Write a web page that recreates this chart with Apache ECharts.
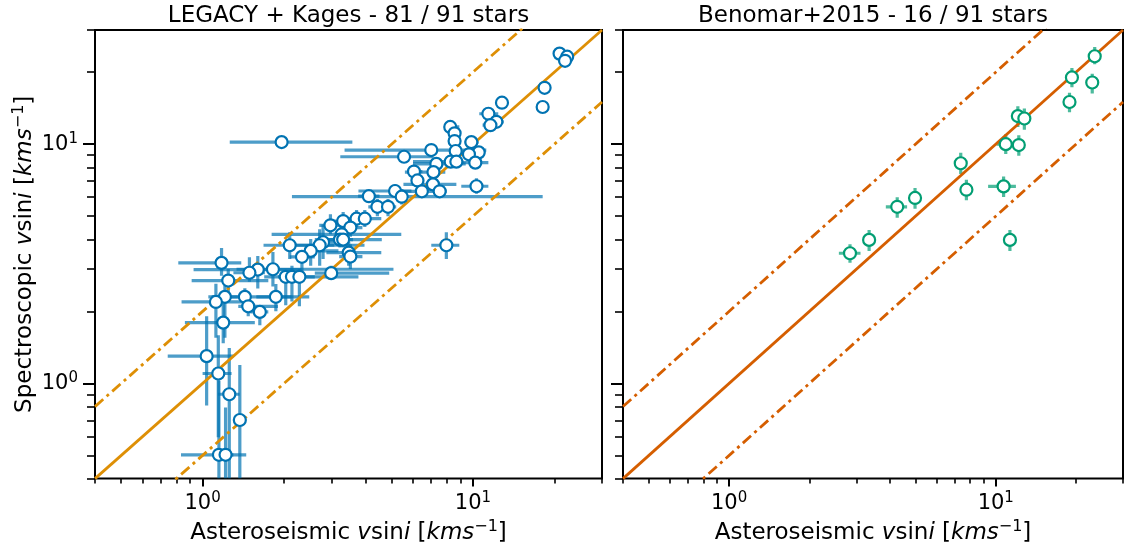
<!DOCTYPE html>
<html><head><meta charset="utf-8">
<script src="https://cdn.jsdelivr.net/npm/echarts@6/dist/echarts.min.js"></script>
<style>html,body{margin:0;padding:0;background:#fff}#c{width:1129px;height:550px}</style>
</head><body><div id="c"></div>
<script>
// ---------- DATA ----------
const panelTitles = ['LEGACY + Kages - 81 / 91 stars', 'Benomar+2015 - 16 / 91 stars'];
const axisMin = 0.4, axisMax = 30;
const majorTicks = [1, 10];
const minorTicks = [0.4,0.5,0.6,0.7,0.8,0.9,2,3,4,5,6,7,8,9,20,30];
const refRatios = [1, 2, 0.5];

// LEGACY + Kages
const legacyX    = [20.9,22.3,21.9,18.4,18.1,12.8,11.4,12.2,11.6,8.24,8.55,8.55,9.86,1.96,7.01,8.63,10.5,9.66,5.56,8.27,8.68,10.2,7.32,6.05,7.14,6.23,7.11,10.3,6.47,7.53,5.15,5.45,4.12,4.43,4.85,3.71,3.98,3.31,2.97,3.52,3.27,3.22,3.31,2.79,2.71,2.10,2.51,2.33,3.47,3.52,7.97,2.99,1.82,1.60,1.49,2.03,2.14,2.28,1.175,1.244,1.209,1.120,1.433,1.866,1.475,1.628,1.192,1.035,1.143,1.255,1.373,1.149,1.216];
const legacyY    = [23.9,23.2,22.3,17.2,14.3,14.9,13.4,12.4,12.0,11.8,11.1,10.3,10.2,10.2,9.45,9.36,9.24,9.07,8.86,8.45,8.45,8.37,8.27,7.68,7.64,7.05,6.79,6.67,6.35,6.35,6.37,6.03,6.06,5.47,5.47,4.88,4.88,4.77,4.58,4.48,4.20,3.99,3.99,3.89,3.78,3.78,3.58,3.38,3.52,3.39,3.78,2.89,3.00,2.99,2.90,2.79,2.79,2.79,3.19,2.69,2.30,2.19,2.30,2.30,2.10,1.99,1.795,1.30,1.10,0.901,0.703,0.503,0.503];
const legacyXLow = [20.0,21.4,21.0,17.6,17.3,12.2,10.55,11.4,10.85,7.83,8.1,8.1,9.3,1.26,3.35,8.2,9.9,9.1,3.23,6.0,8.2,8.9,6.0,5.7,5.6,5.9,5.53,9.05,5.0,7.1,3.77,2.14,3.76,4.1,4.5,3.17,3.6,2.9,2.7,3.2,1.80,2.9,2.6,2.59,2.17,1.68,2.38,2.1,2.87,3.2,7.01,2.6,1.335,0.926,1.3,1.69,1.9,2.0,0.813,0.911,1.08,0.836,1.05,1.58,1.355,1.5,0.860,0.743,1.0,1.14,1.31,0.832,1.15];
const legacyXHigh= [21.8,23.2,22.8,19.2,18.9,13.4,12.4,13.0,12.5,8.90,9.0,9.0,10.5,3.58,11.2,9.1,11.1,10.3,7.14,9.2,9.2,11.4,9.4,6.5,7.9,6.6,8.68,11.4,7.8,8.0,5.92,18.1,4.51,4.8,5.2,4.2,4.58,3.8,3.3,3.9,5.43,3.6,4.6,3.40,3.97,3.07,3.18,2.6,4.58,3.9,8.90,4.9,5.08,2.32,1.7,3.77,2.4,2.6,1.39,1.75,1.35,1.48,2.13,2.48,1.90,1.75,1.56,1.30,1.28,1.37,1.45,1.45,1.3];
const legacyYLow = [22.8,22.2,21.3,16.4,13.7,14.2,12.8,11.8,11.4,11.2,10.5,9.7,9.6,9.9,9.1,8.8,8.7,8.6,8.5,8.0,8.0,7.9,7.8,7.2,7.2,6.6,6.4,6.2,6.0,6.0,6.0,5.6,5.7,5.0,5.0,4.5,4.5,4.4,4.20,4.1,3.9,3.7,3.7,3.31,3.10,3.31,3.10,2.93,3.1,3.01,3.31,2.74,2.54,2.49,2.66,2.12,2.2,2.1,2.82,2.26,1.55,1.55,2.1,2.0,1.91,1.75,1.47,0.809,0.596,0.3,0.3,0.3,0.3];
const legacyYHigh= [25.0,24.2,23.3,18.0,15.0,15.6,14.0,13.0,12.6,12.5,11.8,10.9,10.8,10.5,9.8,9.9,9.8,9.6,9.2,8.9,8.9,8.8,8.7,8.2,8.1,7.5,7.2,7.2,6.7,6.7,6.8,6.5,6.4,5.9,5.9,5.3,5.3,5.2,5.09,4.9,4.5,4.3,4.3,4.62,4.41,4.28,4.01,3.57,3.9,3.82,4.28,3.10,3.54,3.41,3.37,2.93,3.1,3.0,3.68,3.01,2.56,2.61,2.5,2.6,2.26,2.12,2.16,1.91,1.59,1.405,1.195,1.026,0.793];

// Benomar+2015
const benomarX    = [23.5,19.3,23.0,18.9,12.1,12.8,10.9,12.2,7.39,7.76,10.7,4.98,4.27,3.35,2.84,11.3];
const benomarY    = [23.3,19.0,18.1,15.0,13.1,12.8,10.0,9.91,8.32,6.45,6.66,5.96,5.47,3.98,3.50,3.98];
const benomarXLow = [23.0,18.9,22.5,18.5,11.55,12.5,10.06,11.6,7.2,7.55,9.36,4.85,3.87,3.27,2.58,11.0];
const benomarXHigh= [24.0,19.7,23.5,19.3,12.7,13.1,11.8,12.8,7.6,7.95,11.9,5.1,4.65,3.43,3.11,11.6];
const benomarYLow = [21.6,17.3,16.3,13.6,11.8,11.5,9.09,8.94,7.51,5.83,6.02,5.37,4.93,3.58,3.19,3.58];
const benomarYHigh= [25.5,20.8,19.7,16.4,14.4,14.1,11.0,10.9,9.20,7.10,7.32,6.56,6.00,4.38,3.82,4.38];

// ---------- STYLE ----------
const FONT = 'DejaVu Sans';
const panels = [
  {grid:{left:95, top:30, width:507, height:451}, marker:'#0173B2', err:'rgba(1,115,178,0.7)', line:'#DE8F05',
   xs:legacyX, ys:legacyY, xl:legacyXLow, xh:legacyXHigh, yl:legacyYLow, yh:legacyYHigh, yLabels:true},
  {grid:{left:623, top:30, width:500, height:451}, marker:'#029E73', err:'rgba(2,158,115,0.7)', line:'#D55E00',
   xs:benomarX, ys:benomarY, xl:benomarXLow, xh:benomarXHigh, yl:benomarYLow, yh:benomarYHigh, yLabels:false}
];
const supRich = {s:{fontSize:15, fontFamily:FONT, color:'#000', padding:[0,0,11,0]}};
const nameRich = {
  n:{fontSize:23, fontFamily:FONT, color:'#000'},
  i:{fontSize:23, fontFamily:FONT, fontStyle:'italic', color:'#000'},
  s:{fontSize:16, fontFamily:FONT, color:'#000', padding:[0,0,13,0]}
};
function supLabel(v){ return '10{s|' + Math.round(Math.log10(v)) + '}'; }
const xName = '{n|Asteroseismic }{i|v}{n|sin}{i|i}{n| [}{i|kms}{s|−1}{n|]}';
const yName = '{n|Spectroscopic }{i|v}{n|sin}{i|i}{n| [}{i|kms}{s|−1}{n|]}';
const dashDot = [11, 4.5, 3, 4.5];

const xAxes = [], yAxes = [], series = [], grids = [];
panels.forEach((p, g) => {
  grids.push(Object.assign({show:true, borderColor:'#000', borderWidth:2, containLabel:false}, p.grid));
  xAxes.push({type:'log', logBase:10, gridIndex:g, min:axisMin, max:axisMax, position:'bottom',
    axisLine:{show:false}, splitLine:{show:false},
    axisTick:{show:true, length:8, lineStyle:{color:'#000', width:2}, customValues:majorTicks},
    axisLabel:{show:true, customValues:majorTicks, formatter:supLabel, margin:12, color:'#000', fontSize:21, fontFamily:FONT, rich:supRich},
    name:xName, nameLocation:'middle', nameGap:36, nameTextStyle:{rich:nameRich}});
  yAxes.push({type:'log', logBase:10, gridIndex:g, min:axisMin, max:axisMax, position:'left',
    axisLine:{show:false}, splitLine:{show:false},
    axisTick:{show:true, length:12, lineStyle:{color:'#000', width:2}, customValues:majorTicks},
    axisLabel:{show:p.yLabels, customValues:majorTicks, formatter:supLabel, margin:17, color:'#000', fontSize:21, fontFamily:FONT, rich:supRich},
    name:p.yLabels ? yName : '', nameLocation:'middle', nameGap:55, nameTextStyle:{rich:nameRich}});
});
panels.forEach((p, g) => {
  xAxes.push({type:'log', logBase:10, gridIndex:g, min:axisMin, max:axisMax, position:'bottom',
    axisLine:{show:false}, splitLine:{show:false}, axisLabel:{show:false},
    axisTick:{show:true, length:5, lineStyle:{color:'#000', width:1.6}, customValues:minorTicks}});
  yAxes.push({type:'log', logBase:10, gridIndex:g, min:axisMin, max:axisMax, position:'left',
    axisLine:{show:false}, splitLine:{show:false}, axisLabel:{show:false},
    axisTick:{show:true, length:8, lineStyle:{color:'#000', width:1.6}, customValues:minorTicks}});
});

panels.forEach((p, g) => {
  // reference lines y = r * x
  refRatios.forEach((r, k) => {
    series.push({type:'line', xAxisIndex:g, yAxisIndex:g, z:3, silent:true, symbol:'none', clip:true,
      data:[[axisMin, axisMin*r],[axisMax, axisMax*r]],
      lineStyle:{color:p.line, width:2.8, type: k===0 ? 'solid' : dashDot, cap:'butt'}});
  });
  // error bars
  const errData = p.xs.map((x,i)=>[x, p.ys[i], p.xl[i], p.xh[i], p.yl[i], p.yh[i]]);
  series.push({type:'custom', xAxisIndex:g, yAxisIndex:g, z:2, silent:true, clip:true,
    encode:{x:0, y:1}, data:errData,
    renderItem:(params, api) => {
      const cl = v => Math.min(axisMax, Math.max(axisMin, v));
      const x = api.value(0), y = api.value(1);
      const a = api.coord([cl(api.value(2)), y]), b = api.coord([cl(api.value(3)), y]);
      const c = api.coord([x, cl(api.value(4))]), d = api.coord([x, cl(api.value(5))]);
      const st = {stroke:p.err, lineWidth:3.2, fill:null};
      return {type:'group', children:[
        {type:'line', shape:{x1:a[0], y1:a[1], x2:b[0], y2:b[1]}, style:st},
        {type:'line', shape:{x1:c[0], y1:c[1], x2:d[0], y2:d[1]}, style:st}
      ]};
    }});
  // markers
  series.push({type:'scatter', xAxisIndex:g, yAxisIndex:g, z:4, silent:true,
    data:p.xs.map((x,i)=>[x, p.ys[i]]), symbol:'circle', symbolSize:12,
    itemStyle:{color:'#fff', borderColor:p.marker, borderWidth:2.2, opacity:1}});
});

const chart = echarts.init(document.getElementById('c'), null, {renderer:'canvas'});
chart.setOption({
  animation:false, backgroundColor:'#fff',
  grid:grids, xAxis:xAxes, yAxis:yAxes, series:series,
  graphic:[
    {type:'text', x:348.5, y:16, style:{text:panelTitles[0], font:'23px "DejaVu Sans"', fill:'#000', align:'center', verticalAlign:'middle', textAlign:'center', textVerticalAlign:'middle'}},
    {type:'text', x:873, y:16, style:{text:panelTitles[1], font:'23px "DejaVu Sans"', fill:'#000', align:'center', verticalAlign:'middle', textAlign:'center', textVerticalAlign:'middle'}}
  ]
});
</script></body></html>
